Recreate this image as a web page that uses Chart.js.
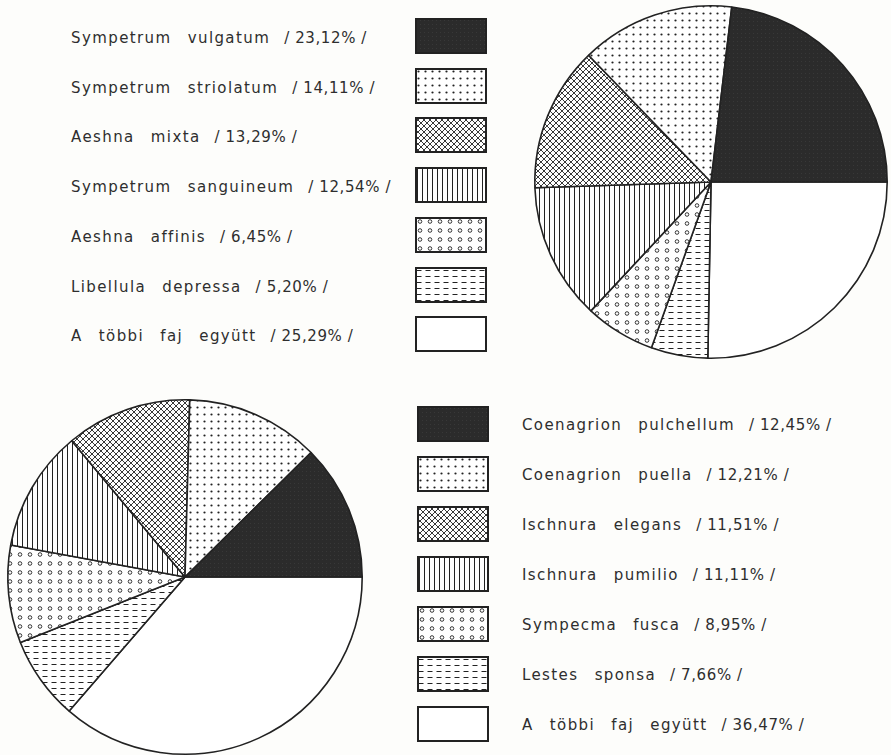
<!DOCTYPE html>
<html>
<head>
<meta charset="utf-8">
<script src="https://cdn.jsdelivr.net/npm/chart.js@4/dist/chart.umd.min.js"></script>
<style>
  body { margin: 0; width: 891px; height: 755px; overflow: hidden; background: #fdfdfb; position: relative; font-family: "DejaVu Sans", sans-serif; color: #2e2e2e; }
  .lbl { position: absolute; font-size: 15px; letter-spacing: 1.4px; word-spacing: 10px; white-space: nowrap; line-height: 20px; }
  .lbl .pct { margin-left: 14px; word-spacing: 0; letter-spacing: 0.6px; }
  .sw { position: absolute; }
  canvas.pie { position: absolute; }
</style>
</head>
<body>
<canvas id="pieTop" class="pie" width="358" height="358" style="left:532px;top:3px"></canvas>
<canvas id="pieBottom" class="pie" width="360" height="360" style="left:5px;top:397px"></canvas>
<script>
// species, in legend order (top to bottom)
const topNames = ["Sympetrum vulgatum", "Sympetrum striolatum", "Aeshna mixta", "Sympetrum sanguineum", "Aeshna affinis", "Libellula depressa", "A többi faj együtt"];
const topValues = [23.12, 14.11, 13.29, 12.54, 6.45, 5.20, 25.29];

const bottomNames = ["Coenagrion pulchellum", "Coenagrion puella", "Ischnura elegans", "Ischnura pumilio", "Sympecma fusca", "Lestes sponsa", "A többi faj együtt"];
const bottomValues = [12.45, 12.21, 11.51, 11.11, 8.95, 7.66, 36.47];

// fill styles, same order as the legend
const patternNames = ["dark", "dots", "cross", "vertical", "circles", "dashes", "blank"];

function makePattern(kind) {
  const c = document.createElement("canvas");
  const sizes = { dark: [4, 4], dots: [7, 7], cross: [6, 6], vertical: [5, 5], circles: [10, 9], dashes: [9, 6], blank: [4, 4] };
  c.width = sizes[kind][0];
  c.height = sizes[kind][1];
  const g = c.getContext("2d");
  g.fillStyle = "#fff";
  g.fillRect(0, 0, c.width, c.height);
  g.strokeStyle = "#222";
  g.fillStyle = "#222";
  g.lineWidth = 0.9;
  if (kind === "dark") {
    g.fillStyle = "#2b2b2b";
    g.fillRect(0, 0, 4, 4);
    g.fillStyle = "#383838";
    g.fillRect(1, 2, 1, 1);
  } else if (kind === "dots") {
    g.beginPath();
    g.arc(3.5, 3.5, 1.1, 0, Math.PI * 2);
    g.fill();
  } else if (kind === "cross") {
    g.beginPath();
    g.moveTo(0, 0); g.lineTo(6, 6);
    g.moveTo(6, 0); g.lineTo(0, 6);
    g.stroke();
  } else if (kind === "vertical") {
    g.lineWidth = 1;
    g.beginPath();
    g.moveTo(2.5, 0); g.lineTo(2.5, 5);
    g.stroke();
  } else if (kind === "circles") {
    g.beginPath();
    g.arc(5, 4.5, 1.8, 0, Math.PI * 2);
    g.stroke();
  } else if (kind === "dashes") {
    g.lineWidth = 1;
    g.beginPath();
    g.moveTo(1.5, 3.5); g.lineTo(6.5, 3.5);
    g.stroke();
  }
  return g.createPattern(c, "repeat");
}

const fills = patternNames.map(makePattern);

function pctText(v) {
  return "/ " + v.toFixed(2).replace(".", ",") + "% /";
}

function makePie(id, names, values) {
  // drawn clockwise from 3 o'clock: the legend order reversed
  const order = names.map((_, i) => names.length - 1 - i);
  new Chart(document.getElementById(id), {
    type: "pie",
    data: {
      labels: order.map(i => names[i]),
      datasets: [{
        data: order.map(i => values[i]),
        backgroundColor: order.map(i => fills[i]),
        borderColor: "#222",
        borderWidth: 1.6,
      }],
    },
    options: {
      responsive: false,
      animation: false,
      rotation: 90,
      layout: { padding: 2 },
      plugins: {
        legend: { display: false },
        tooltip: { enabled: false },
      },
    },
  });
}

function makeLegend(names, values, swX, swY, txtX, txtY, step) {
  names.forEach((name, i) => {
    const sw = document.createElement("canvas");
    sw.className = "sw";
    sw.width = 72;
    sw.height = 36;
    sw.style.left = swX + "px";
    sw.style.top = (swY + i * step) + "px";
    document.body.appendChild(sw);
    const g = sw.getContext("2d");
    g.fillStyle = fills[i];
    g.fillRect(0, 0, 72, 36);
    g.strokeStyle = "#222";
    g.lineWidth = 2;
    g.strokeRect(1, 1, 70, 34);

    const d = document.createElement("div");
    d.className = "lbl";
    d.style.left = txtX + "px";
    d.style.top = (txtY + i * step - 10) + "px";
    d.innerHTML = name + '<span class="pct">' + pctText(values[i]) + "</span>";
    document.body.appendChild(d);
  });
}

makePie("pieTop", topNames, topValues);
makePie("pieBottom", bottomNames, bottomValues);
makeLegend(topNames, topValues, 415, 18, 71, 38, 49.7);
makeLegend(bottomNames, bottomValues, 417, 406, 522, 425, 50);
</script>
</body>
</html>
